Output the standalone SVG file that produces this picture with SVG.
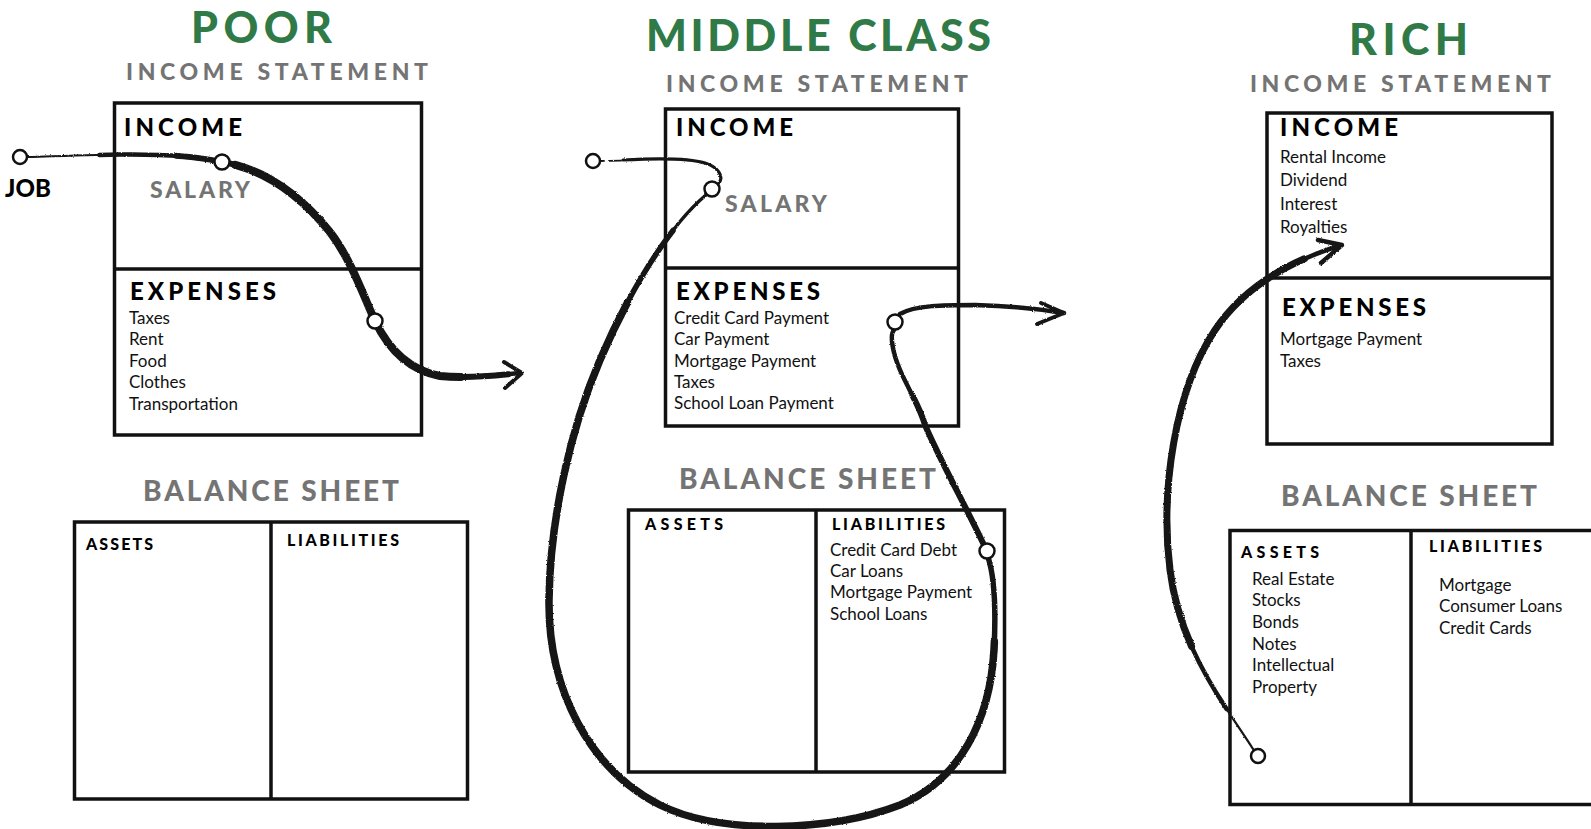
<svg xmlns="http://www.w3.org/2000/svg" width="1591" height="829" viewBox="0 0 1591 829">
  <style>
    .title { font-family: Lato, "Open Sans", sans-serif; font-weight: 900; fill: #2f7a46; font-size: 43px; }
    .sub { font-family: Lato, "Open Sans", sans-serif; font-weight: 900; fill: #747474; font-size: 23px; }
    .bal { font-size: 28px; }
    .hd { font-family: Lato, "Open Sans", sans-serif; font-weight: 900; fill: #000; font-size: 24px; }
    .sm { font-family: Lato, "Open Sans", sans-serif; font-weight: 900; fill: #000; font-size: 16px; }
    .item { font-family: Lato, "Open Sans", sans-serif; font-size: 17px; fill: #111; }
    .box { fill: #fff; stroke: #111; stroke-width: 3.5; }
    .rule { fill: none; stroke: #111; stroke-width: 3.5; }
    .brush { fill: none; stroke: #141414; stroke-linecap: round; stroke-linejoin: round; }
    .dot { fill: #fff; stroke: #111; stroke-width: 2.5; }
  </style>
  <defs>
    <!-- slight ragged edge for the hand-painted strokes -->
    <filter id="rough" filterUnits="userSpaceOnUse" x="0" y="0" width="1591" height="829">
      <feTurbulence type="fractalNoise" baseFrequency="0.9" numOctaves="2" seed="3" result="noise"/>
      <feDisplacementMap in="SourceGraphic" in2="noise" scale="2.2" xChannelSelector="R" yChannelSelector="G"/>
    </filter>
    <!-- stroke courses, drawn several times at growing widths to taper them -->
    <path id="poor-flow" pathLength="100" d="M28,157 C60,156 90,155 120,154.5 C160,154 195,156 222,162 C262,168 300,195 330,232 C350,258 362,292 375,321 C388,348 408,370 440,376 C470,379 500,375 520,373"/>
    <path id="mid-loop" pathLength="100" d="M706,195 C670,225 630,290 600,360 C570,430 550,520 549,600 C548,690 590,770 660,805 C720,835 830,832 900,805 C960,780 990,720 994,650 C996,610 994,575 988,557"/>
    <path id="mid-rise" pathLength="100" d="M983,543 C965,505 940,460 925,425 C918,400 898,375 893,348 C891,338 892,332 894,330"/>
    <path id="rich-flow" pathLength="100" d="M1253,749 C1225,705 1180,650 1170,570 C1160,490 1175,390 1215,330 C1245,285 1290,262 1338,246"/>
  </defs>
  <rect width="1591" height="829" fill="#fff"/>

  <!-- column headings -->
  <g id="headings">
    <text class="title" x="191" y="43" textLength="141" lengthAdjust="spacing">POOR</text>
    <text class="sub" x="126" y="80" textLength="302" lengthAdjust="spacing">INCOME STATEMENT</text>
    <text class="title" x="646" y="51" textLength="345" lengthAdjust="spacing">MIDDLE CLASS</text>
    <text class="sub" x="666" y="92" textLength="302" lengthAdjust="spacing">INCOME STATEMENT</text>
    <text class="title" x="1349" y="55" textLength="119" lengthAdjust="spacing">RICH</text>
    <text class="sub" x="1250" y="92" textLength="301" lengthAdjust="spacing">INCOME STATEMENT</text>
  </g>

  <!-- poor: income statement -->
  <g id="poor-income">
    <rect class="box" x="114.5" y="103" width="307" height="332"/>
    <line class="rule" x1="114.5" y1="269" x2="421.5" y2="269"/>
    <text class="hd" x="124" y="136" textLength="118" lengthAdjust="spacing">INCOME</text>
    <text class="sub" x="150" y="198" textLength="100" lengthAdjust="spacing">SALARY</text>
    <text class="hd" x="130" y="300" textLength="146" lengthAdjust="spacing">EXPENSES</text>
    <text class="item" x="129" y="324">Taxes</text>
    <text class="item" x="129" y="345">Rent</text>
    <text class="item" x="129" y="367">Food</text>
    <text class="item" x="129" y="388">Clothes</text>
    <text class="item" x="129" y="410">Transportation</text>
  </g>

  <!-- poor: balance sheet -->
  <g id="poor-balance">
    <text class="sub bal" x="143" y="501" textLength="256" lengthAdjust="spacing">BALANCE SHEET</text>
    <rect class="box" x="74.5" y="522" width="393" height="277"/>
    <line class="rule" x1="271" y1="522" x2="271" y2="799"/>
    <text class="sm" x="86" y="550" font-size="15" textLength="67" lengthAdjust="spacing">ASSETS</text>
    <text class="sm" x="287" y="546" textLength="112" lengthAdjust="spacing">LIABILITIES</text>
  </g>

  <!-- poor: job label -->
  <g id="poor-job">
    <text class="hd" x="5" y="197" font-size="21" textLength="46" lengthAdjust="spacing">JOB</text>
  </g>

  <!-- middle class: income statement -->
  <g id="middle-income">
    <rect class="box" x="665.5" y="109" width="293" height="317"/>
    <line class="rule" x1="665.5" y1="268" x2="958.5" y2="268"/>
    <text class="hd" x="676" y="136" textLength="117" lengthAdjust="spacing">INCOME</text>
    <text class="sub" x="725" y="212" textLength="102" lengthAdjust="spacing">SALARY</text>
    <text class="hd" x="676" y="300" textLength="144" lengthAdjust="spacing">EXPENSES</text>
    <text class="item" x="674" y="324">Credit Card Payment</text>
    <text class="item" x="674" y="345">Car Payment</text>
    <text class="item" x="674" y="367">Mortgage Payment</text>
    <text class="item" x="674" y="388">Taxes</text>
    <text class="item" x="674" y="409">School Loan Payment</text>
  </g>

  <!-- middle class: balance sheet -->
  <g id="middle-balance">
    <text class="sub bal" x="679" y="489" textLength="257" lengthAdjust="spacing">BALANCE SHEET</text>
    <rect class="box" x="628.5" y="510" width="376" height="262"/>
    <line class="rule" x1="816" y1="510" x2="816" y2="772"/>
    <text class="sm" x="645" y="530" font-size="17" textLength="78" lengthAdjust="spacing">ASSETS</text>
    <text class="sm" x="832" y="530" font-size="17" textLength="113" lengthAdjust="spacing">LIABILITIES</text>
    <text class="item" x="830" y="556">Credit Card Debt</text>
    <text class="item" x="830" y="577">Car Loans</text>
    <text class="item" x="830" y="598">Mortgage Payment</text>
    <text class="item" x="830" y="620">School Loans</text>
  </g>

  <!-- rich: income statement -->
  <g id="rich-income">
    <rect class="box" x="1267" y="113" width="285" height="331"/>
    <line class="rule" x1="1267" y1="278" x2="1552" y2="278"/>
    <text class="hd" x="1280" y="136" textLength="118" lengthAdjust="spacing">INCOME</text>
    <text class="item" x="1280" y="163">Rental Income</text>
    <text class="item" x="1280" y="186">Dividend</text>
    <text class="item" x="1280" y="210">Interest</text>
    <text class="item" x="1280" y="233">Royalties</text>
    <text class="hd" x="1282" y="316" textLength="144" lengthAdjust="spacing">EXPENSES</text>
    <text class="item" x="1280" y="345">Mortgage Payment</text>
    <text class="item" x="1280" y="367">Taxes</text>
  </g>

  <!-- rich: balance sheet -->
  <g id="rich-balance">
    <text class="sub bal" x="1281" y="506" textLength="256" lengthAdjust="spacing">BALANCE SHEET</text>
    <rect class="box" x="1230" y="530.5" width="400" height="274"/>
    <line class="rule" x1="1411" y1="530.5" x2="1411" y2="804.5"/>
    <text class="sm" x="1241" y="558" font-size="17" textLength="78" lengthAdjust="spacing">ASSETS</text>
    <text class="item" x="1252" y="585">Real Estate</text>
    <text class="item" x="1252" y="606">Stocks</text>
    <text class="item" x="1252" y="628">Bonds</text>
    <text class="item" x="1252" y="650">Notes</text>
    <text class="item" x="1252" y="671">Intellectual</text>
    <text class="item" x="1252" y="693">Property</text>
    <text class="sm" x="1429" y="552" font-size="17" textLength="113" lengthAdjust="spacing">LIABILITIES</text>
    <text class="item" x="1439" y="591">Mortgage</text>
    <text class="item" x="1439" y="612">Consumer Loans</text>
    <text class="item" x="1439" y="634">Credit Cards</text>
  </g>

  <!-- cash-flow strokes -->
  <g id="connectors">
    <g filter="url(#rough)">
      <!-- poor: job -> salary -> expenses -> out -->
      <use href="#poor-flow" class="brush" stroke-width="2"/>
      <use href="#poor-flow" class="brush" stroke-width="4.5" stroke-dasharray="88 1000" stroke-dashoffset="-12"/>
      <use href="#poor-flow" class="brush" stroke-width="6" stroke-dasharray="73 1000" stroke-dashoffset="-25"/>
      <use href="#poor-flow" class="brush" stroke-width="8" stroke-dasharray="55 1000" stroke-dashoffset="-35"/>
      <path class="brush" stroke-width="4" d="M504,362 L522,373 L505,388"/>

      <!-- middle class: job -> salary -> loop through liabilities -> expenses -> out -->
      <path class="brush" stroke-width="1.8" stroke-dasharray="3 5 12 3" d="M601,161 L623,160.5"/>
      <path class="brush" stroke-width="3.2" d="M623,160 C650,158.5 685,157 705,163 C718,167 724,176 719,183"/>
      <use href="#mid-loop" class="brush" stroke-width="3.5"/>
      <use href="#mid-loop" class="brush" stroke-width="5.5" stroke-dasharray="96 1000" stroke-dashoffset="-4"/>
      <use href="#mid-loop" class="brush" stroke-width="7.5" stroke-dasharray="82 1000" stroke-dashoffset="-11"/>
      <use href="#mid-rise" class="brush" stroke-width="4.5"/>
      <use href="#mid-rise" class="brush" stroke-width="6" stroke-dasharray="70 1000"/>
      <path class="brush" stroke-width="4.5" d="M900,314 C915,305 945,305 975,305 C1010,306 1045,310 1064,313"/>
      <path class="brush" stroke-width="4" d="M1041,303 L1064,313 L1037,324"/>

      <!-- rich: assets -> income -->
      <use href="#rich-flow" class="brush" stroke-width="2.2"/>
      <use href="#rich-flow" class="brush" stroke-width="4.5" stroke-dasharray="92 1000" stroke-dashoffset="-8"/>
      <use href="#rich-flow" class="brush" stroke-width="7" stroke-dasharray="74 1000" stroke-dashoffset="-20"/>
      <path class="brush" stroke-width="4.5" d="M1318,240 L1342,245 L1321,263"/>
    </g>

    <!-- junction markers -->
    <circle class="dot" cx="20" cy="157" r="7"/>
    <circle class="dot" cx="222" cy="162" r="7.5"/>
    <circle class="dot" cx="375" cy="321" r="7.5"/>
    <circle class="dot" cx="593" cy="161" r="7"/>
    <circle class="dot" cx="712" cy="189" r="7.5"/>
    <circle class="dot" cx="895" cy="322" r="7.5"/>
    <circle class="dot" cx="987" cy="551" r="7.5"/>
    <circle class="dot" cx="1258" cy="756" r="7"/>
  </g>
</svg>
